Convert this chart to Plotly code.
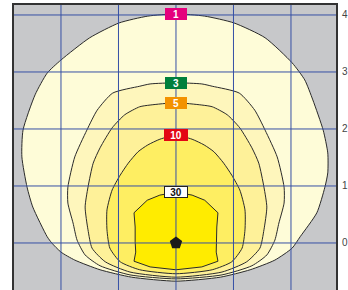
import plotly.graph_objects as go

# Isolux contour levels (lux) and their label colours
levels = [1, 3, 5, 10, 30]
label_bg = ["#E5007D", "#00803C", "#F39200", "#E30613", "#FFFFFF"]
label_fg = ["#FFFFFF", "#FFFFFF", "#FFFFFF", "#FFFFFF", "#111111"]
fills = ["#FEFCD8", "#FEF6BC", "#FEF199", "#FEEE62", "#FFEC00"]

# contour polygons (metres)
c1_x = [0, 0.50, 1.01, 1.55, 2.02, 2.24, 2.38, 2.56, 2.64, 2.64, 2.59, 2.45, 2.16, 2.02, 1.72, 1.29, 0.77, 0,
        -0.77, -1.32, -1.76, -2.0, -2.16, -2.24, -2.49, -2.59, -2.68, -2.66, -2.45, -2.24, -2.0, -1.50, -0.99, -0.49, 0]
c1_y = [4.02, 3.98, 3.86, 3.60, 3.16, 2.86, 2.51, 1.98, 1.58, 1.23, 0.98, 0.53, 0.11, -0.09, -0.30, -0.47, -0.60, -0.67,
        -0.60, -0.47, -0.30, -0.16, 0.0, 0.11, 0.63, 0.98, 1.51, 1.98, 2.60, 2.98, 3.21, 3.60, 3.86, 3.98, 4.02]

c3_x = [0, 0.45, 0.63, 1.10, 1.37, 1.55, 1.76, 1.88, 1.88, 1.79, 1.72, 1.58, 1.32, 0.80, 0,
        -0.80, -1.32, -1.58, -1.72, -1.79, -1.88, -1.88, -1.76, -1.55, -1.37, -1.10, -0.63, -0.45, 0]
c3_y = [2.81, 2.79, 2.75, 2.63, 2.33, 1.98, 1.51, 0.98, 0.70, 0.35, 0.05, -0.21, -0.40, -0.56, -0.63,
        -0.56, -0.40, -0.21, 0.05, 0.35, 0.70, 0.98, 1.51, 1.98, 2.33, 2.63, 2.75, 2.79, 2.81]

c5_x = [0, 0.45, 0.63, 0.89, 1.11, 1.32, 1.44, 1.53, 1.58, 1.53, 1.46, 1.23, 0.80, 0,
        -0.80, -1.23, -1.46, -1.53, -1.58, -1.53, -1.44, -1.32, -1.11, -0.89, -0.63, -0.45, 0]
c5_y = [2.46, 2.42, 2.39, 2.25, 2.02, 1.67, 1.40, 0.98, 0.63, 0.23, -0.09, -0.33, -0.51, -0.60,
        -0.51, -0.33, -0.09, 0.23, 0.63, 0.98, 1.40, 1.67, 2.02, 2.25, 2.39, 2.42, 2.46]

c10_x = [0, 0.28, 0.49, 0.66, 0.83, 0.97, 1.11, 1.20, 1.20, 1.15, 0.97, 0.63, 0,
         -0.63, -0.97, -1.15, -1.20, -1.20, -1.11, -0.97, -0.83, -0.66, -0.49, -0.28, 0]
c10_y = [1.89, 1.82, 1.72, 1.60, 1.40, 1.19, 0.93, 0.58, 0.23, -0.09, -0.33, -0.47, -0.54,
         -0.47, -0.33, -0.09, 0.23, 0.58, 0.93, 1.19, 1.40, 1.60, 1.72, 1.82, 1.89]

c30_x = [0, 0.28, 0.50, 0.73, 0.71, 0.71, 0.70, 0.73, 0.45, 0,
         -0.45, -0.73, -0.70, -0.71, -0.71, -0.73, -0.50, -0.28, 0]
c30_y = [0.89, 0.84, 0.75, 0.53, 0.28, 0.02, -0.16, -0.32, -0.42, -0.47,
         -0.42, -0.32, -0.16, 0.02, 0.28, 0.53, 0.75, 0.84, 0.89]

contours_x = [c1_x, c3_x, c5_x, c10_x, c30_x]
contours_y = [c1_y, c3_y, c5_y, c10_y, c30_y]

# luminaire position
lum_x = [0]
lum_y = [0]

grid_x = [-2, -1, 0, 1, 2]
grid_y = [0, 1, 2, 3, 4]
tick_labels = ["0", "1", "2", "3", "4"]

x_range = [-2.817, 2.783]
y_range = [-0.825, 4.175]

fig = go.Figure()

for i, lv in enumerate(levels):
    fig.add_trace(go.Scatter(
        x=contours_x[i], y=contours_y[i], mode="lines", fill="toself",
        fillcolor=fills[i],
        line=dict(color="#2a2a2a", width=1,
                  shape="linear" if lv == 30 else "spline", smoothing=0.6),
        hoverinfo="skip", showlegend=False))

# grid lines drawn above the fills
for gx in grid_x:
    fig.add_trace(go.Scatter(x=[gx, gx], y=y_range, mode="lines",
                             line=dict(color="#3550A5", width=1),
                             hoverinfo="skip", showlegend=False))
for gy in grid_y:
    fig.add_trace(go.Scatter(x=x_range, y=[gy, gy], mode="lines",
                             line=dict(color="#3550A5", width=1),
                             hoverinfo="skip", showlegend=False))

fig.add_trace(go.Scatter(x=lum_x, y=lum_y, mode="markers",
                         marker=dict(symbol="pentagon", size=13, color="#1a1a1a"),
                         hoverinfo="skip", showlegend=False))

for i, lv in enumerate(levels):
    fig.add_annotation(
        x=0, y=contours_y[i][0], text="<b>%d</b>" % lv, showarrow=False,
        font=dict(family="Liberation Sans, Arial", size=10, color=label_fg[i]),
        bgcolor=label_bg[i],
        bordercolor="#222222" if lv == 30 else label_bg[i],
        borderwidth=1, borderpad=0,
        width=20 if lv < 10 else 22, height=10,
        xanchor="center", yanchor="middle")

fig.update_layout(
    width=348, height=290,
    margin=dict(l=14, r=12, t=5, b=0, autoexpand=False),
    paper_bgcolor="#FFFFFF", plot_bgcolor="#C7C8CA",
    hovermode=False,
    xaxis=dict(range=x_range, showgrid=False, zeroline=False, automargin=False,
               showticklabels=False, ticks="", side="top",
               showline=True, linecolor="#333333", linewidth=2, mirror=False),
    yaxis=dict(range=y_range, side="right", showgrid=False, zeroline=False,
               automargin=False, ticklabelstandoff=2,
               tickvals=grid_y, ticktext=tick_labels, ticks="",
               tickfont=dict(family="Liberation Sans, Arial", size=10, color="#444444"),
               showline=True, linecolor="#333333", linewidth=2, mirror=True),
)

fig.write_html("out.html", config={"displayModeBar": False},
               post_script="document.body.style.margin='0px';document.body.style.overflow='hidden';")
